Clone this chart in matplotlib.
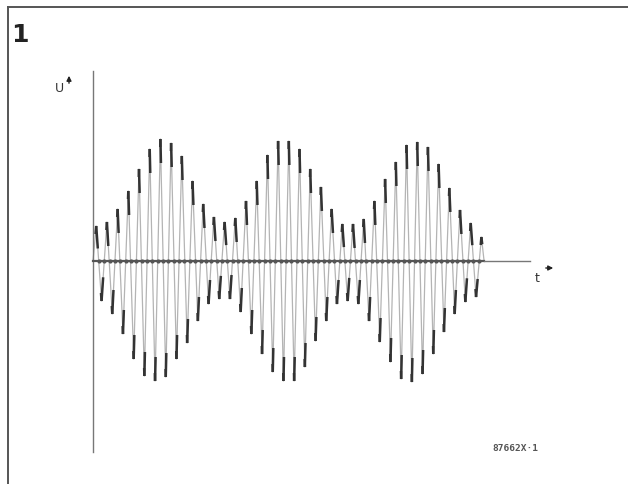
"""Fig. 1 - amplitude-modulated carrier (beat envelope), redrawn from scan."""
import numpy as np
import matplotlib.pyplot as plt
from matplotlib.collections import LineCollection

# carrier cycles (time in carrier periods); positive peak of each cycle
top_t = [0.3 + k for k in range(37)]
top_amp = [35, 39, 52, 70, 92, 112, 122, 118, 105, 80,
           57, 44, 39, 43, 60, 80, 106, 120, 120, 112,
           92, 74, 52, 37, 37, 42, 60, 82, 99, 116,
           119, 114, 97, 73, 51, 38, 24]
# negative peak half a cycle later
bot_t = [0.8 + k for k in range(36)]
bot_amp = [40, 53, 73, 98, 115, 120, 116, 98, 82, 60,
           43, 38, 38, 51, 73, 93, 111, 120, 120, 106,
           80, 60, 43, 40, 43, 60, 81, 101, 118, 121,
           113, 93, 71, 53, 41, 36]
t_start, t_end = 0.0, 36.55

W, H = 628, 485
fig = plt.figure(figsize=(W / 100, H / 100), dpi=100)
ax = fig.add_axes([0, 0, 1, 1])
# 1 carrier period ~ 10.7 px, origin of the graph at pixel (93, 262)
px = 10.7
ax.set_xlim(-93 / px, (W - 93) / px)
ax.set_ylim(-(H - 262), 262)
ax.axis("off")

# build the zigzag trace: start, top, bottom, top, ... , end
tt = [t_start]
yy = [0.0]
for i in range(len(top_t)):
    tt.append(top_t[i]); yy.append(top_amp[i])
    if i < len(bot_t):
        tt.append(bot_t[i]); yy.append(-bot_amp[i])
tt.append(t_end); yy.append(0.0)
tt = np.array(tt); yy = np.array(yy)

ax.plot(tt, yy, color="#b4b4b4", lw=0.9, zorder=2)

# dark ink at the extremes of each stroke (as in the printed original)
segs = []
for i in range(1, len(tt) - 1):
    for j, ln in ((i + 1, 24.0), (i - 1, 8.0)):
        span = abs(yy[j] - yy[i])
        f = min(ln / span, 0.3)
        segs.append([(tt[i], yy[i]),
                     (tt[i] + f * (tt[j] - tt[i]), yy[i] + f * (yy[j] - yy[i]))])
ax.add_collection(LineCollection(segs, colors="#333333", linewidths=1.8, zorder=3))

# axes of the graph
ax.plot([0, 0], [190, -191], color="#777777", lw=1.0, zorder=4)
ax.plot([0, t_end], [0, 0], color="#555555", lw=1.6, zorder=4)
ax.plot([t_end, (530 - 93) / px], [0, 0], color="#777777", lw=1.0, zorder=4)
# zero crossings show as small dots on the axis
zc = (tt[1:-2] + tt[2:-1]) / 2
ax.plot(zc, np.zeros_like(zc), "o", ms=2.0, color="#555555", zorder=5)

# axis labels with small arrows
fig.text(59 / W, 1 - 89 / H, "U", fontsize=9, color="#333333", ha="center", va="center")
ax.annotate("", xy=(69, H - 74), xytext=(69, H - 87), xycoords="figure pixels",
            textcoords="figure pixels",
            arrowprops=dict(arrowstyle="-|>", color="#222222", lw=1.0, mutation_scale=7))
fig.text(537 / W, 1 - 279 / H, "t", fontsize=9, color="#333333", ha="center", va="center")
ax.annotate("", xy=(556, H - 269), xytext=(543, H - 269), xycoords="figure pixels",
            textcoords="figure pixels",
            arrowprops=dict(arrowstyle="-|>", color="#222222", lw=1.0, mutation_scale=7))

# figure number and code
fig.text(20 / W, 1 - 35 / H, "1", fontsize=18, fontweight="bold", color="#222222",
         ha="center", va="center")
fig.text(515 / W, 1 - 449 / H, "87662X·1", fontsize=6.8, fontweight="bold",
         color="#555555", ha="center", va="center", family="DejaVu Sans Mono")

# frame of the printed figure
fig.add_artist(plt.Line2D([8 / W, 8 / W], [0, 1 - 8 / H], color="#555555", lw=1.4))
fig.add_artist(plt.Line2D([8 / W, 1], [1 - 8 / H, 1 - 8 / H], color="#555555", lw=1.4))

fig.savefig("out.png", dpi=100, facecolor="white")
